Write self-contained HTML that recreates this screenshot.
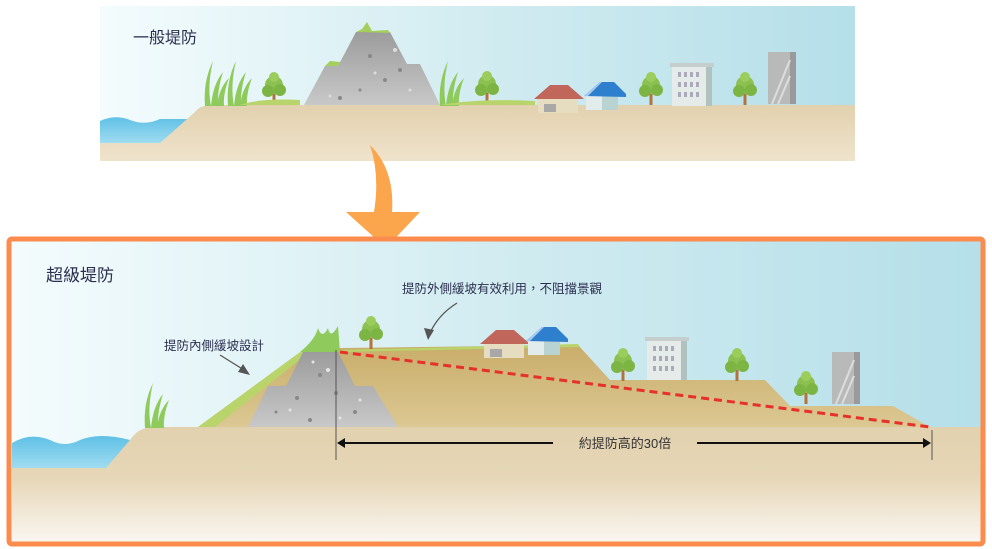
<!DOCTYPE html>
<html><head><meta charset="utf-8"><style>
html,body{margin:0;padding:0;background:#fff;width:992px;height:549px;overflow:hidden}
svg{display:block}
text{font-family:"Liberation Sans","Noto Sans CJK TC",sans-serif}
</style></head><body>
<svg width="992" height="549" viewBox="0 0 992 549">
<defs>
<linearGradient id="sky" x1="0" x2="1" y1="0" y2="0"><stop offset="0" stop-color="#f4fcfd"/><stop offset="0.5" stop-color="#d2ecf1"/><stop offset="1" stop-color="#b5dfe9"/></linearGradient>
<linearGradient id="gnd" x1="0" x2="0" y1="0" y2="1"><stop offset="0" stop-color="#e2d1ae"/><stop offset="0.45" stop-color="#e6d7b8"/><stop offset="1" stop-color="#faf7f2"/></linearGradient>
<linearGradient id="gnd2" x1="0" x2="0" y1="0" y2="1"><stop offset="0" stop-color="#e2d1ae"/><stop offset="1" stop-color="#efe3cc"/></linearGradient>
<linearGradient id="hill" x1="0" x2="0" y1="0" y2="1"><stop offset="0" stop-color="#c9ad6a"/><stop offset="1" stop-color="#dcc893"/></linearGradient>
<linearGradient id="rock" x1="0" x2="0" y1="0" y2="1"><stop offset="0" stop-color="#9c9c9c"/><stop offset="1" stop-color="#c8c8c8"/></linearGradient>
<linearGradient id="water" x1="0" x2="0" y1="0" y2="1"><stop offset="0" stop-color="#5fc0e6"/><stop offset="1" stop-color="#9fdcf0"/></linearGradient>
<g id="tree"><rect x="-1.5" y="0" width="3" height="16" fill="#b3733d"/><circle cx="0" cy="-4" r="9" fill="#8cc152"/><circle cx="-6" cy="2" r="6" fill="#7db544"/><circle cx="6" cy="1" r="6" fill="#7db544"/><circle cx="0" cy="-12" r="5" fill="#9acd5c"/></g>
<g id="reed"><path d="M0 0 Q-2 -25 8 -45 Q2 -20 6 0Z M6 0 Q8 -22 18 -34 Q12 -15 13 0Z M12 0 Q14 -18 24 -28 Q18 -12 19 0Z" fill="#8fca5c"/></g>
<g id="house1"><rect x="0" y="8" width="40" height="16" fill="#e6dcc0"/><path d="M-4 10 L12 -4 L30 -4 L46 10Z" fill="#c0665a"/><rect x="6" y="15" width="12" height="8" fill="#a8a8a8"/></g>
<g id="house2"><rect x="0" y="8" width="32" height="16" fill="#e2ecec"/><rect x="16" y="8" width="16" height="16" fill="#b9d3d3"/><path d="M-2 10 L14 -4 L28 -4 L40 8 L40 11Z" fill="#2f7fcf"/><path d="M-2 10 L14 -4 L16 -4 L2 10Z" fill="#a8c8ef"/></g>
<g id="bldg"><rect x="0" y="0" width="40" height="40" fill="#e4ebe9"/><rect x="34" y="0" width="6" height="40" fill="#b0c2bf"/><rect x="-2" y="-3" width="44" height="4" fill="#c5cecc"/>
<g fill="#aab"><rect x="6" y="6" width="3" height="5"/><rect x="12" y="6" width="3" height="5"/><rect x="18" y="6" width="3" height="5"/><rect x="24" y="6" width="3" height="5"/><rect x="6" y="16" width="3" height="5"/><rect x="12" y="16" width="3" height="5"/><rect x="18" y="16" width="3" height="5"/><rect x="24" y="16" width="3" height="5"/><rect x="6" y="26" width="3" height="5"/><rect x="12" y="26" width="3" height="5"/><rect x="18" y="26" width="3" height="5"/><rect x="24" y="26" width="3" height="5"/></g></g>
<g id="tower"><rect x="0" y="0" width="26" height="52" fill="#b9b9b9"/><rect x="22" y="0" width="6" height="52" fill="#9a9a9a"/><path d="M4 52 L22 8 M10 52 L22 24" stroke="#ddd" stroke-width="2"/></g>
</defs>

<!-- TOP PANEL -->
<rect x="100" y="6" width="755" height="155" fill="url(#sky)"/>
<path d="M100 121 Q115 114 130 120 Q145 126 160 119 L190 119 L160 143 L100 143Z" fill="url(#water)"/>
<path d="M100 143 L160 143 L195 112 Q200 105 212 105 L855 105 L855 161 L100 161Z" fill="url(#gnd2)"/>
<use href="#reed" x="205" y="106"/>
<use href="#reed" x="228" y="106"/>
<use href="#tree" x="274" y="89"/>
<path d="M240 105 Q260 98 300 100 L300 105Z" fill="#b9d46a"/>
<path d="M304 105 L325 66 L338 66 L356 32 L390 32 L407 64 L420 64 L440 105Z" fill="url(#rock)"/>
<path d="M356 32 L362 29 L367 22 L372 31 L388 30 L390 33Z M325 66 L330 61 L340 62 L338 66Z" fill="#a3cf5a"/>
<g fill="#888"><circle cx="370" cy="56" r="2"/><circle cx="385" cy="80" r="2"/><circle cx="360" cy="90" r="1.5"/><circle cx="400" cy="70" r="2"/><circle cx="340" cy="98" r="2"/></g>
<g fill="#ddd"><circle cx="395" cy="50" r="2"/><circle cx="375" cy="73" r="1.5"/><circle cx="330" cy="96" r="1.5"/><circle cx="410" cy="90" r="1.5"/></g>
<use href="#reed" x="440" y="106"/>
<use href="#tree" x="487" y="88"/>
<path d="M440 105 Q480 98 535 101 L535 105Z" fill="#b9d46a"/>
<use href="#house1" x="538" y="89"/>
<use href="#house2" x="586" y="86"/>
<use href="#tree" x="651" y="89"/>
<use href="#bldg" x="672" y="66"/>
<use href="#tree" x="745" y="89"/>
<use href="#tower" x="768" y="52"/>
<text x="133" y="43" font-size="16" fill="#2c3050">一般堤防</text>

<!-- ORANGE ARROW -->
<path d="M370 145 Q395 170 392 212 L420 212 L386 248 L346 212 L374 212 Q380 175 370 145Z" fill="#fba64c"/>

<!-- BOTTOM PANEL -->
<rect x="10" y="240" width="972" height="303" fill="url(#sky)"/>
<path d="M12 443 Q30 432 50 440 Q65 448 80 440 Q100 432 130 440 L130 468 L12 468Z" fill="url(#water)"/>
<path d="M12 468 L106 468 L135 434 Q142 427 156 427 L982 427 L982 543 L12 543Z" fill="url(#gnd)"/>
<use href="#reed" x="145" y="428"/>
<path d="M198 427 L303 350 L340 348 L578 345 L610 380 L765 380 L790 406 L893 406 L930 427Z" fill="url(#hill)"/>
<path d="M198 427 L303 350 L312 350 L215 427Z" fill="#b9d46a"/>
<path d="M340 350 L578 344 L580 347 L340 352Z" fill="#b9d46a"/>
<path d="M300 352 Q315 340 318 328 Q322 340 328 328 Q330 340 338 326 L340 352Z" fill="#8fca5c"/>
<path d="M248 427 L268 386 L286 386 L303 352 L338 352 L355 386 L373 386 L398 427Z" fill="url(#rock)"/>
<g fill="#888"><circle cx="320" cy="375" r="2"/><circle cx="336" cy="393" r="2"/><circle cx="297" cy="398" r="2"/><circle cx="310" cy="420" r="2"/><circle cx="355" cy="412" r="2"/><circle cx="276" cy="412" r="1.5"/></g>
<g fill="#e4e4e4"><circle cx="313" cy="362" r="1.5"/><circle cx="328" cy="370" r="2"/><circle cx="290" cy="410" r="1.5"/><circle cx="360" cy="400" r="1.5"/><circle cx="340" cy="418" r="1.5"/></g>
<use href="#tree" x="371" y="333"/>
<use href="#house1" x="484" y="334"/>
<use href="#house2" x="528" y="331"/>
<use href="#tree" x="623" y="365"/>
<use href="#bldg" x="647" y="340"/>
<use href="#tree" x="737" y="365"/>
<use href="#tree" x="806" y="388"/>
<use href="#tower" x="832" y="352"/>
<line x1="340" y1="352" x2="930" y2="427" stroke="#e8302a" stroke-width="3" stroke-dasharray="8,5"/>
<line x1="336" y1="350" x2="336" y2="460" stroke="#555" stroke-width="1"/>
<line x1="932" y1="430" x2="932" y2="460" stroke="#555" stroke-width="1"/>
<line x1="342" y1="443" x2="553" y2="443" stroke="#111" stroke-width="2"/>
<line x1="697" y1="443" x2="926" y2="443" stroke="#111" stroke-width="2"/>
<path d="M337 443 L345 438 L345 448Z M931 443 L923 438 L923 448Z" fill="#111"/>
<text x="625" y="448" font-size="13" fill="#333" text-anchor="middle">約提防高的30倍</text>
<text x="46" y="281" font-size="17" fill="#2c3050">超級堤防</text>
<text x="164" y="350" font-size="12.5" fill="#2c3050">提防內側緩坡設計</text>
<text x="402" y="293" font-size="12.5" fill="#2c3050">提防外側緩坡有效利用，不阻擋景觀</text>
<path d="M220 355 L244 370" stroke="#555" stroke-width="1.3"/><path d="M250 375 L238 372 L243 364Z" fill="#555"/>
<path d="M457 303 Q438 315 430 333" stroke="#555" stroke-width="1.3" fill="none"/><path d="M428 340 L424 328 L434 330Z" fill="#555"/>
<rect x="9" y="239" width="974" height="305" fill="none" stroke="#fb8c4e" stroke-width="5" rx="3"/>
</svg>
</body></html>
